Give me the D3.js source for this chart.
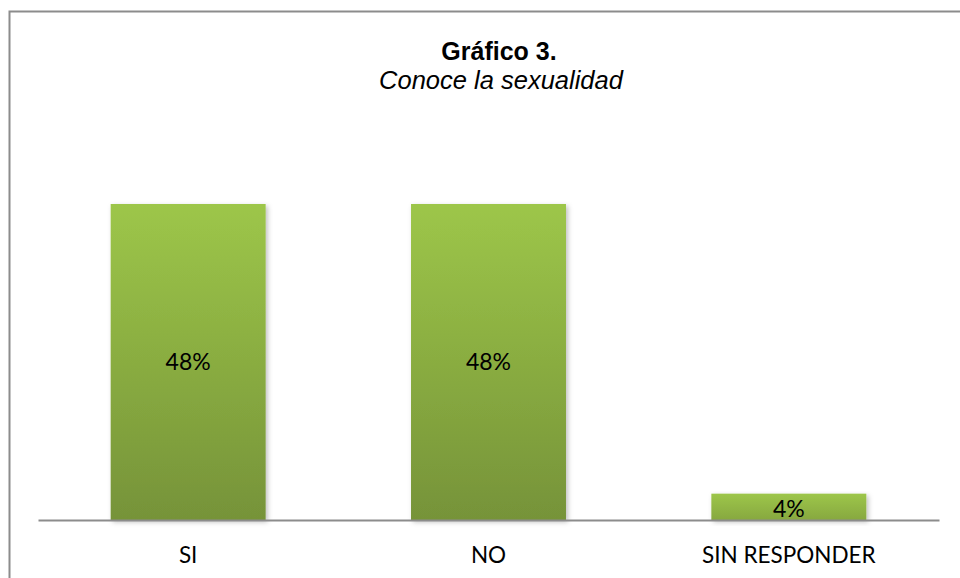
<!DOCTYPE html>
<html>
<head>
<meta charset="utf-8">
<script src="https://cdn.jsdelivr.net/npm/d3@7/dist/d3.min.js"></script>
<style>
html,body{margin:0;padding:0;background:#fff;}
svg{display:block;}
</style>
</head>
<body>
<script>
const categories = ["SI", "NO", "SIN RESPONDER"];
const values = [48, 48, 4];
const valueLabels = ["48%", "48%", "4%"];
const titleText = "Gráfico 3.";
const subtitleText = "Conoce la sexualidad";

const W = 960, H = 578;
const svg = d3.select("body").append("svg").attr("width", W).attr("height", H);

const defs = svg.append("defs");
const grad = defs.append("linearGradient").attr("id", "barGrad")
  .attr("x1", 0).attr("y1", 0).attr("x2", 0).attr("y2", 1);
grad.append("stop").attr("offset", "0%").attr("stop-color", "#9dc649");
grad.append("stop").attr("offset", "100%").attr("stop-color", "#769339");
const grad2 = defs.append("linearGradient").attr("id", "barGrad2")
  .attr("x1", 0).attr("y1", 0).attr("x2", 0).attr("y2", 1);
grad2.append("stop").attr("offset", "0%").attr("stop-color", "#9dc649");
grad2.append("stop").attr("offset", "100%").attr("stop-color", "#87a840");
const f = defs.append("filter").attr("id", "shadow")
  .attr("x", "-10%").attr("y", "-10%").attr("width", "130%").attr("height", "130%");
f.append("feDropShadow").attr("dx", 2).attr("dy", 2).attr("stdDeviation", 2.5)
  .attr("flood-color", "#000").attr("flood-opacity", 0.25);

// chart border
svg.append("rect").attr("x", 9.5).attr("y", 11.5).attr("width", 960).attr("height", 600)
  .attr("fill", "none").attr("stroke", "#8c8c8c").attr("stroke-width", 2);

const x = d3.scaleBand().domain(categories).range([38, 939]).paddingInner(0.484).paddingOuter(0.242);
const y = d3.scaleLinear().domain([0, 48]).range([520, 204]);

const g = svg.append("g");
g.selectAll("rect.bar").data(categories).join("rect").attr("class", "bar")
  .attr("x", d => x(d)).attr("width", x.bandwidth())
  .attr("y", (d, i) => y(values[i]))
  .attr("height", (d, i) => y(0) - y(values[i]))
  .attr("fill", (d, i) => values[i] < 10 ? "url(#barGrad2)" : "url(#barGrad)")
  .attr("filter", "url(#shadow)");

// axis line
const xAxis = d3.axisBottom(x).tickSize(0).tickPadding(27);
const ax = svg.append("g").attr("transform", `translate(0,${y(0)})`).call(xAxis);
ax.select(".domain").attr("stroke", "#8c8c8c").attr("stroke-width", 2);
ax.selectAll("text").attr("font-family", "Lato, 'Open Sans', sans-serif")
  .attr("font-size", 22.5).attr("fill", "#000");

// value labels
g.selectAll("text.val").data(categories).join("text").attr("class", "val")
  .attr("x", d => x(d) + x.bandwidth() / 2)
  .attr("y", (d, i) => values[i] < 10 ? y(0) - 3 : (y(values[i]) + y(0)) / 2 + 8)
  .attr("text-anchor", "middle")
  .attr("font-family", "Lato, 'Open Sans', sans-serif").attr("font-size", 23)
  .attr("fill", "#000")
  .text((d, i) => valueLabels[i]);

// title
svg.append("text").attr("x", 499).attr("y", 60).attr("text-anchor", "middle")
  .attr("font-family", "'Liberation Sans', Arial, sans-serif").attr("font-weight", "bold")
  .attr("font-size", 25).text(titleText);
svg.append("text").attr("x", 501).attr("y", 89).attr("text-anchor", "middle")
  .attr("font-family", "'Liberation Sans', Arial, sans-serif").attr("font-style", "italic")
  .attr("font-size", 25.5).text(subtitleText);
</script>
</body>
</html>
